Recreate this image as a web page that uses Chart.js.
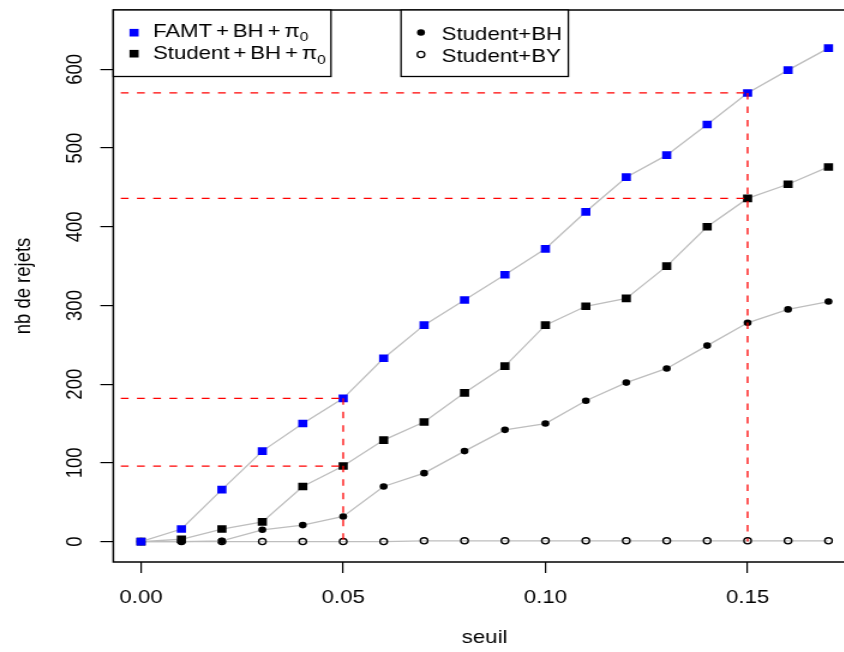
<!DOCTYPE html>
<html><head><meta charset="utf-8">
<script src="https://cdn.jsdelivr.net/npm/chart.js@4"></script>
<style>
html,body{margin:0;padding:0;overflow:hidden;background:#fff;width:844px;height:652px}
#wrap{position:absolute;left:0;top:0;width:730px;height:652px;transform:scaleX(1.2);transform-origin:0 0}
</style></head><body>
<div id="wrap"><canvas id="c" width="730" height="652"></canvas></div>
<script>
// ---- data ----
const seuil = [0,0.01,0.02,0.03,0.04,0.05,0.06,0.07,0.08,0.09,0.10,0.11,0.12,0.13,0.14,0.15,0.16,0.17];
const famtBHpi0    = [0,16,66,115,150,182,233,275,307,339,372,419,463,491,530,570,599,627];
const studentBHpi0 = [0,3,16,25,70,96,129,152,189,223,275,299,309,350,400,436,454,476];
const studentBH    = [0,0,1,15,21,32,70,87,115,142,150,179,202,220,249,278,295,305];
const studentBY    = [0,0,0,0,0,0,0,1,1,1,1,1,1,1,1,1,1,1];
const xTicks = [0,0.05,0.10,0.15];
const xTickLabels = ["0.00","0.05","0.10","0.15"];
const yTicks = [0,100,200,300,400,500,600];
const yTickLabels = ["0","100","200","300","400","500","600"];
const refSeuils = [0.05,0.15];
const refValuesAt005 = [182,96];
const refValuesAt015 = [570,436];
const refStartX = -0.005;
const xLabel = "seuil";
const yLabel = "nb de rejets";

// ---- build datasets ----
const pts = arr => seuil.map((x,i)=>({x:x, y:arr[i]}));
const series = [
  {label:"FAMT + BH + π0", data:pts(famtBHpi0), pointStyle:'rect', pointRadius:5.4, pointBackgroundColor:'#0000FF', pointBorderWidth:0},
  {label:"Student + BH + π0", data:pts(studentBHpi0), pointStyle:'rect', pointRadius:5.4, pointBackgroundColor:'#000000', pointBorderWidth:0},
  {label:"Student+BH", data:pts(studentBH), pointStyle:'circle', pointRadius:3.3, pointBackgroundColor:'#000000', pointBorderWidth:0},
  {label:"Student+BY", data:pts(studentBY), pointStyle:'circle', pointRadius:3.1, pointBackgroundColor:'rgba(0,0,0,0)', pointBorderColor:'#000', pointBorderWidth:1.3}
].map((d,i)=>Object.assign({type:'line', borderColor:'#BEBEBE', borderWidth:1.3, order:i+1, pointHoverRadius:0}, d));

const refSets = [];
[[refSeuils[0], refValuesAt005],[refSeuils[1], refValuesAt015]].forEach(([t, vals])=>{
  vals.forEach(v=>refSets.push({type:'line', data:[{x:refStartX,y:v},{x:t,y:v}]}));
  refSets.push({type:'line', data:[{x:t,y:Math.max(...vals)},{x:t,y:0}]});
});
refSets.forEach(d=>Object.assign(d,{borderColor:'#FF0000', borderWidth:1.3, borderDash:[6.5,7], pointRadius:0, order:0}));

const FONT = '"Liberation Sans", Arial, Helvetica, sans-serif';

function drawPieces(ctx, pieces, x, y, gap){
  for (const p of pieces){
    if (p.sub){
      ctx.font = '13px ' + FONT;
      ctx.fillText(p.t, x, y + 4.5);
      x += ctx.measureText(p.t).width;
    } else {
      ctx.font = '18.5px ' + FONT;
      ctx.fillText(p.t, x, y);
      x += ctx.measureText(p.t).width + (p.nogap ? 0 : gap);
    }
  }
}

const rPlugin = {
  id:'rstyle',
  afterDraw(chart){
    const {ctx, chartArea:a, scales:{x, y}} = chart;
    ctx.save();
    // frame
    ctx.strokeStyle = '#000'; ctx.lineWidth = 1.5; ctx.setLineDash([]);
    ctx.strokeRect(a.left, a.top, a.right - a.left, a.bottom - a.top);
    ctx.fillStyle = '#000';
    ctx.font = '18.5px ' + FONT;
    // x tick labels
    ctx.textAlign = 'center'; ctx.textBaseline = 'alphabetic';
    xTicks.forEach((v,i)=>ctx.fillText(xTickLabels[i], x.getPixelForValue(v), 603));
    // y tick labels (rotated like R)
    yTicks.forEach((v,i)=>{
      ctx.save(); ctx.translate(68.3, y.getPixelForValue(v)); ctx.rotate(-Math.PI/2);
      ctx.fillText(yTickLabels[i], 0, 0); ctx.restore();
    });
    // axis titles
    ctx.fillText(xLabel, (a.left + a.right)/2, 643);
    ctx.save(); ctx.translate(24.5, (a.top + a.bottom)/2); ctx.rotate(-Math.PI/2);
    ctx.fillText(yLabel, 0, 0); ctx.restore();
    // legends
    ctx.lineWidth = 1.3;
    ctx.fillStyle = '#fff';
    ctx.fillRect(94.4, 10, 181.4, 66.5); ctx.strokeRect(94.4, 10, 181.4, 66.5);
    ctx.fillRect(334.2, 10, 139.4, 66.5); ctx.strokeRect(334.2, 10, 139.4, 66.5);
    // left legend markers
    const sq = 7.6;
    ctx.fillStyle = '#0000FF'; ctx.fillRect(111.7 - sq/2, 32.7 - sq/2, sq, sq);
    ctx.fillStyle = '#000'; ctx.fillRect(111.7 - sq/2, 53.7 - sq/2, sq, sq);
    ctx.textAlign = 'left';
    drawPieces(ctx, [{t:'FAMT'},{t:'+'},{t:'BH'},{t:'+'},{t:'π', nogap:true},{t:'0', sub:true}], 127.5, 36.7, 3.2);
    drawPieces(ctx, [{t:'Student'},{t:'+'},{t:'BH'},{t:'+'},{t:'π', nogap:true},{t:'0', sub:true}], 127.5, 59.3, 3.2);
    // right legend markers
    ctx.beginPath(); ctx.arc(350.8, 32.5, 3.3, 0, Math.PI*2); ctx.fill();
    ctx.beginPath(); ctx.arc(350.8, 54.5, 3.1, 0, Math.PI*2); ctx.strokeStyle = '#000'; ctx.lineWidth = 1.3; ctx.stroke();
    ctx.font = '18.5px ' + FONT;
    ctx.fillText('Student+BH', 368.1, 39.5);
    ctx.fillText('Student+BY', 368.1, 61.5);
    ctx.restore();
  }
};

new Chart(document.getElementById('c'), {
  type:'line',
  data:{datasets: refSets.concat(series)},
  options:{
    responsive:false, animation:false, devicePixelRatio:1,
    events:[],
    layout:{padding:{left:0, right:16.7, top:10, bottom:0}},
    plugins:{legend:{display:false}, tooltip:{enabled:false}},
    scales:{
      x:{type:'linear', min:-0.00685, max:0.1768,
         afterBuildTicks: s => { s.ticks = xTicks.map(v=>({value:v})); },
         afterFit: s => { s.height = 90; },
         ticks:{display:false},
         grid:{drawOnChartArea:false, drawTicks:true, tickLength:11, color:'#000', lineWidth:1.2},
         border:{display:false}},
      y:{type:'linear', min:-25.9, max:675.4,
         afterBuildTicks: s => { s.ticks = yTicks.map(v=>({value:v})); },
         afterFit: s => { s.width = 94.4; },
         ticks:{display:false},
         grid:{drawOnChartArea:false, drawTicks:true, tickLength:10.8, color:'#000', lineWidth:1.2},
         border:{display:false}}
    }
  },
  plugins:[rPlugin]
});
</script>
</body></html>
